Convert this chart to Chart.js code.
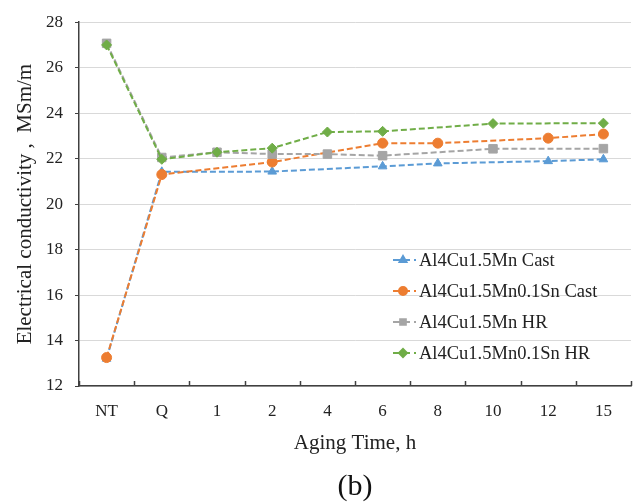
<!DOCTYPE html>
<html>
<head>
<meta charset="utf-8">
<script src="https://cdn.jsdelivr.net/npm/chart.js@4/dist/chart.umd.min.js"></script>
<style>
  html, body { margin: 0; padding: 0; background: #fff; }
  #wrap { width: 638px; height: 504px; position: relative; }
</style>
</head>
<body>
<div id="wrap"><canvas id="canvas" width="638" height="504"></canvas></div>
<script>
const ctx = document.getElementById('canvas');

// aging steps and measured conductivity (MS/m); null = not measured
const agingSteps = ['NT', 'Q', '1', '2', '4', '6', '8', '10', '12', '15'];
const mnCast = [13.2, 21.42, null, 21.43, null, 21.66, 21.79, null, 21.89, 21.97];
const snCast = [13.25, 21.3, null, 21.85, null, 22.68, 22.68, null, 22.9, 23.08];
const mnHR = [27.07, 22.05, 22.28, 22.2, 22.2, 22.13, null, 22.43, null, 22.44];
const snHR = [27.0, 21.97, 22.28, 22.46, 23.17, 23.2, null, 23.54, null, 23.56];
const yTicks = [12, 14, 16, 18, 20, 22, 24, 26, 28];

const serif = 'Liberation Serif';
const axisColor = '#404040';

function series(label, data, color, style, order) {
  return {
    label: label,
    data: data,
    borderColor: color,
    backgroundColor: color,
    borderWidth: 2,
    borderDash: [6, 3],
    pointStyle: style,
    pointRadius: style === 'rect' ? 6 : 5,
    pointHoverRadius: 6,
    pointBorderWidth: 1,
    spanGaps: true,
    order: order,
  };
}

// small ticks pointing up into the plot, between categories
const upTicks = {
  id: 'upTicks',
  afterDraw(chart) {
    const xs = chart.scales.x;
    const c = chart.ctx;
    const step = (xs.right - xs.left) / agingSteps.length;
    c.save();
    c.strokeStyle = axisColor;
    c.lineWidth = 1.5;
    for (let i = 0; i <= agingSteps.length; i++) {
      const x = Math.round(xs.left + i * step) + 0.5;
      c.beginPath();
      c.moveTo(x, xs.top);
      c.lineTo(x, xs.top - 5);
      c.stroke();
    }
    c.restore();
  },
};

// legend box inside the plot area
const innerLegend = {
  id: 'innerLegend',
  afterDraw(chart) {
    const c = chart.ctx;
    c.save();
    c.font = '18.5px "' + serif + '"';
    c.textBaseline = 'middle';
    chart.data.datasets.forEach((ds, i) => {
      const y = 260 + i * 31;
      c.strokeStyle = ds.borderColor;
      c.fillStyle = ds.borderColor;
      c.lineWidth = 2;
      c.beginPath();
      c.moveTo(393, y);
      c.lineTo(400, y);
      c.moveTo(405, y);
      c.lineTo(410, y);
      c.moveTo(414, y);
      c.lineTo(416, y);
      c.stroke();
      Chart.helpers.drawPoint(c, {
        pointStyle: ds.pointStyle,
        radius: 4,
        rotation: 0,
        borderWidth: 1,
      }, 403, y);
      c.fillStyle = '#222';
      c.fillText(ds.label, 419, y + 1);
    });
    c.restore();
  },
};

let myChart = new Chart(ctx, {
  type: 'line',
  data: {
    labels: agingSteps,
    datasets: [
      series('Al4Cu1.5Mn Cast', mnCast, '#5b9bd5', 'triangle', 3),
      series('Al4Cu1.5Mn0.1Sn Cast', snCast, '#ed7d31', 'circle', 2),
      series('Al4Cu1.5Mn HR', mnHR, '#a5a5a5', 'rect', 1),
      series('Al4Cu1.5Mn0.1Sn HR', snHR, '#70ad47', 'rectRot', 0),
    ],
  },
  options: {
    responsive: false,
    animation: false,
    layout: {
      padding: { top: 15, right: 3, bottom: 0, left: 0 },
    },
    plugins: {
      legend: { display: false },
      tooltip: { enabled: false },
      subtitle: {
        display: true,
        text: '(b)',
        position: 'bottom',
        fullSize: false,
        color: '#111',
        font: { family: serif, size: 30, weight: 'normal', lineHeight: 1.1 },
        padding: { top: 0, bottom: 0 },
      },
    },
    scales: {
      x: {
        offset: true,
        grid: {
          display: true,
          drawOnChartArea: false,
          drawTicks: false,
          offset: true,
        },
        border: { color: axisColor, width: 1.5 },
        ticks: {
          color: '#222',
          padding: 15,
          autoSkip: false,
          font: { family: serif, size: 17 },
          maxRotation: 0,
        },
        title: {
          display: true,
          text: 'Aging Time, h',
          color: '#222',
          font: { family: serif, size: 21 },
          padding: { top: 0, bottom: 15 },
        },
        afterFit(scale) {
          scale.height = 85;
        },
      },
      y: {
        min: 12,
        max: 28,
        afterBuildTicks(scale) {
          scale.ticks = yTicks.map((v) => ({ value: v }));
        },
        grid: {
          color: '#d9d9d9',
          lineWidth: 1,
          tickLength: 4,
          tickColor: axisColor,
        },
        border: { color: axisColor, width: 1.5 },
        ticks: {
          color: '#222',
          padding: 12,
          font: { family: serif, size: 17 },
        },
        title: {
          display: true,
          text: 'Electrical conductivity ,  MSm/m',
          color: '#222',
          font: { family: serif, size: 21 },
          padding: { top: 13, bottom: 0 },
        },
        afterFit(scale) {
          scale.width = 79;
        },
      },
    },
  },
  plugins: [upTicks, innerLegend],
});
</script>
</body>
</html>
